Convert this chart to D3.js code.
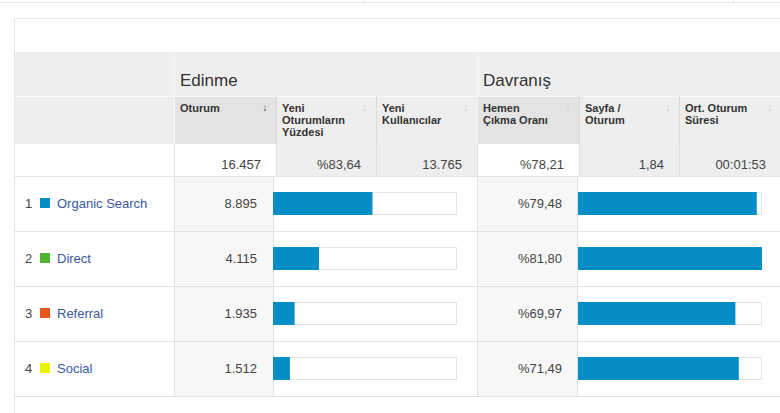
<!DOCTYPE html>
<html>
<head>
<meta charset="utf-8">
<script src="https://cdn.jsdelivr.net/npm/d3@7"></script>
<style>
  body { margin: 0; background: #fff; }
  svg { display: block; font-family: Arial, "Liberation Sans", sans-serif; }
</style>
</head>
<body>
<script>
// table data
const groups = ["Edinme", "Davranış"];
const columns = [
  ["Oturum"],
  ["Yeni", "Oturumların", "Yüzdesi"],
  ["Yeni", "Kullanıcılar"],
  ["Hemen", "Çıkma Oranı"],
  ["Sayfa /", "Oturum"],
  ["Ort. Oturum", "Süresi"]
];
const totals = ["16.457", "%83,64", "13.765", "%78,21", "1,84", "00:01:53"];
const channels = ["Organic Search", "Direct", "Referral", "Social"];
const channelColors = ["#058dc7", "#50b432", "#ed561b", "#edef00"];
const sessions = [8895, 4115, 1935, 1512];
const bounceRates = [79.48, 81.80, 69.97, 71.49];
const totalSessions = 16457;

const W = 780, H = 413;
const fmtInt = d3.format(",");
const trNum = d => fmtInt(d).replace(/,/g, ".");
const trPct = d => "%" + d.toFixed(2).replace(".", ",");

// column edges
const colX = [174, 276, 376, 477, 579, 679, 781];
const leftX = 14;
const headTop = 52, subTop = 96, totTop = 144, bodyTop = 176, rowH = 55;
const lineCol = "#e2e2e2";

const svg = d3.select("body").append("svg")
  .attr("width", W).attr("height", H);

// top strip
svg.append("line").attr("x1", 0).attr("x2", W).attr("y1", 2.5).attr("y2", 2.5)
  .attr("stroke", "#e6e6e6");
[363.5, 733.5].forEach(x => svg.append("line")
  .attr("x1", x).attr("x2", x).attr("y1", 0).attr("y2", 3)
  .attr("stroke", "#e6e6e6"));

// panel border
svg.append("path")
  .attr("d", `M${leftX + 0.5},${H} V18.5 H${W}`)
  .attr("fill", "none").attr("stroke", "#e6e6e6");

// header background
svg.append("rect").attr("x", leftX + 1).attr("y", headTop)
  .attr("width", W - leftX).attr("height", totTop - headTop)
  .attr("fill", "#eeeeee");

// sorted column headers darker
[0, 3].forEach(i => svg.append("rect")
  .attr("x", colX[i]).attr("y", subTop)
  .attr("width", colX[i + 1] - colX[i]).attr("height", totTop - subTop)
  .attr("fill", "#e3e3e3"));

// header lines
svg.append("line").attr("x1", leftX + 1).attr("x2", W)
  .attr("y1", subTop + 0.5).attr("y2", subTop + 0.5).attr("stroke", "#f7f7f7");
[174, 477].forEach(x => svg.append("line")
  .attr("x1", x + 0.5).attr("x2", x + 0.5).attr("y1", headTop).attr("y2", totTop)
  .attr("stroke", "#f7f7f7"));
[276, 376, 579, 679].forEach(x => svg.append("line")
  .attr("x1", x + 0.5).attr("x2", x + 0.5).attr("y1", subTop).attr("y2", totTop)
  .attr("stroke", "#dadada"));

// group titles
svg.selectAll(".group").data(groups).join("text")
  .attr("x", (d, i) => (i === 0 ? colX[0] : colX[3]) + 6)
  .attr("y", 86)
  .attr("font-size", 17).attr("fill", "#333")
  .text(d => d);

// column titles
const colG = svg.selectAll(".col").data(columns).join("g")
  .attr("transform", (d, i) => `translate(${colX[i] + 6},112)`);
colG.selectAll("text").data(d => d).join("text")
  .attr("y", (d, i) => i * 12)
  .attr("font-size", 11).attr("font-weight", "bold").attr("fill", "#333")
  .text(d => d);
svg.selectAll(".arrow").data(columns).join("text")
  .attr("x", (d, i) => colX[i + 1] - 11)
  .attr("y", 111).attr("text-anchor", "middle")
  .attr("font-size", 10).attr("font-weight", "bold")
  .attr("fill", (d, i) => i === 0 ? "#333" : "#c8c8c8")
  .text("↓");

// totals row
totals.forEach((t, i) => {
  if (i !== 0 && i !== 3) {
    svg.append("rect").attr("x", colX[i]).attr("y", totTop)
      .attr("width", colX[i + 1] - colX[i]).attr("height", bodyTop - totTop)
      .attr("fill", "#eeeeee");
  }
});
[174, 276, 376, 477, 579, 679].forEach(x => svg.append("line")
  .attr("x1", x + 0.5).attr("x2", x + 0.5).attr("y1", totTop).attr("y2", bodyTop)
  .attr("stroke", lineCol));
svg.selectAll(".tot").data(totals).join("text")
  .attr("x", (d, i) => colX[i + 1] - 15)
  .attr("y", 169).attr("text-anchor", "end")
  .attr("font-size", 13).attr("fill", "#444")
  .text(d => d);

// body value columns
const bodyBottom = bodyTop + rowH * channels.length;
[[174, 273], [477, 577]].forEach(([a, b]) => {
  svg.append("rect").attr("x", a).attr("y", bodyTop)
    .attr("width", b - a).attr("height", bodyBottom - bodyTop).attr("fill", "#f7f7f7");
  [a, b].forEach(x => svg.append("line")
    .attr("x1", x + 0.5).attr("x2", x + 0.5).attr("y1", bodyTop).attr("y2", bodyBottom)
    .attr("stroke", lineCol));
});

// row separators
d3.range(channels.length + 1).forEach(i => svg.append("line")
  .attr("x1", leftX + 1).attr("x2", W)
  .attr("y1", bodyTop + i * rowH + 0.5).attr("y2", bodyTop + i * rowH + 0.5)
  .attr("stroke", lineCol));

// scales
const barW = 184;
const xSess = d3.scaleLinear().domain([0, totalSessions]).range([0, barW]);
const xBounce = d3.scaleLinear().domain([0, d3.max(bounceRates)]).range([0, barW]);
const y = d3.scaleBand().domain(channels).range([bodyTop, bodyBottom]);

const rows = svg.selectAll(".row").data(channels).join("g")
  .attr("transform", d => `translate(0,${y(d)})`);

rows.append("text").attr("x", 25).attr("y", 32)
  .attr("font-size", 13).attr("fill", "#444")
  .text((d, i) => i + 1);
rows.append("rect").attr("x", 40).attr("y", 22).attr("width", 10).attr("height", 10)
  .attr("fill", (d, i) => channelColors[i]);
rows.append("text").attr("x", 57).attr("y", 32)
  .attr("font-size", 13).attr("fill", "#3a57a3")
  .text(d => d);

rows.append("text").attr("x", 257).attr("y", 32).attr("text-anchor", "end")
  .attr("font-size", 13).attr("fill", "#444")
  .text((d, i) => trNum(sessions[i]));
rows.append("text").attr("x", 562).attr("y", 32).attr("text-anchor", "end")
  .attr("font-size", 13).attr("fill", "#444")
  .text((d, i) => trPct(bounceRates[i]));

// bar tracks and bars
[[273, sessions, xSess], [578, bounceRates, xBounce]].forEach(([x0, vals, sc]) => {
  rows.append("rect").attr("x", x0 + 0.5).attr("y", 16.5)
    .attr("width", barW - 1).attr("height", 22)
    .attr("fill", "#fff").attr("stroke", "#e4e4e4");
  rows.append("rect").attr("x", x0).attr("y", 16)
    .attr("width", (d, i) => sc(vals[i])).attr("height", 23)
    .attr("fill", "#058dc7");
});
</script>
</body>
</html>
